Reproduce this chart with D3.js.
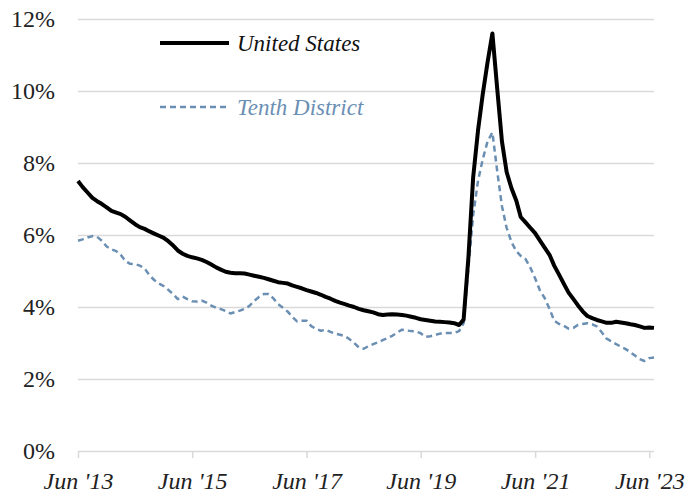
<!DOCTYPE html>
<html>
<head>
<meta charset="utf-8">
<script src="https://cdn.jsdelivr.net/npm/d3@7"></script>
<style>
  html, body { margin: 0; padding: 0; background: #fff; }
  svg { display: block; }
</style>
</head>
<body>
<svg id="chart" width="688" height="502"></svg>
<script>
// Monthly, Jun 2013 through Jul 2023 (percent)
const unitedStates = [
  7.50, 7.33, 7.18, 7.03, 6.94, 6.86, 6.77, 6.67, 6.62, 6.58,
  6.50, 6.40, 6.30, 6.22, 6.17, 6.10, 6.04, 5.98, 5.92, 5.82,
  5.70, 5.57, 5.48, 5.42, 5.38, 5.35, 5.31, 5.25, 5.18, 5.10,
  5.04, 4.98, 4.95, 4.94, 4.94, 4.93, 4.90, 4.87, 4.84, 4.81,
  4.77, 4.73, 4.69, 4.67, 4.65, 4.60, 4.56, 4.52, 4.47, 4.43,
  4.39, 4.34, 4.28, 4.23, 4.17, 4.12, 4.08, 4.04, 4.00, 3.95,
  3.91, 3.88, 3.85, 3.80, 3.78, 3.79, 3.80, 3.79, 3.78, 3.76,
  3.73, 3.70, 3.66, 3.64, 3.62, 3.60, 3.59, 3.58, 3.57, 3.55,
  3.50, 3.65, 5.40, 7.60, 8.90, 9.90, 10.80, 11.60, 10.10, 8.60,
  7.75, 7.30, 6.95, 6.50, 6.35, 6.20, 6.05, 5.85, 5.65, 5.45,
  5.15, 4.90, 4.65, 4.40, 4.22, 4.05, 3.88, 3.75, 3.69, 3.64,
  3.60, 3.56, 3.56, 3.59, 3.57, 3.55, 3.52, 3.50, 3.46, 3.42,
  3.43, 3.42
];

const tenthDistrict = [
  5.84, 5.88, 5.93, 5.97, 5.95, 5.84, 5.68, 5.60, 5.55, 5.45,
  5.27, 5.20, 5.19, 5.15, 5.07, 4.88, 4.75, 4.65, 4.58, 4.47,
  4.35, 4.22, 4.29, 4.22, 4.16, 4.15, 4.18, 4.12, 4.04, 3.98,
  3.94, 3.89, 3.82, 3.86, 3.90, 3.95, 4.03, 4.17, 4.28, 4.36,
  4.36, 4.24, 4.08, 3.98, 3.87, 3.73, 3.60, 3.62, 3.62, 3.47,
  3.39, 3.34, 3.37, 3.31, 3.26, 3.23, 3.19, 3.11, 3.00, 2.88,
  2.84, 2.91, 2.97, 3.02, 3.08, 3.14, 3.20, 3.29, 3.37, 3.35,
  3.33, 3.32, 3.27, 3.17, 3.19, 3.22, 3.26, 3.28, 3.28, 3.28,
  3.33, 3.55, 5.10, 6.55, 7.50, 8.10, 8.60, 8.85, 7.80, 6.80,
  6.20, 5.80, 5.55, 5.42, 5.33, 5.10, 4.80, 4.47, 4.25, 3.95,
  3.62, 3.53, 3.48, 3.40, 3.42, 3.50, 3.53, 3.55, 3.52, 3.46,
  3.30, 3.12, 3.05, 2.97, 2.90, 2.83, 2.74, 2.65, 2.55, 2.50,
  2.58, 2.60
];

const yTicks = [0, 2, 4, 6, 8, 10, 12];
const xTickYears = [2013, 2015, 2017, 2019, 2021, 2023];

const BLUE = "#6b8fb3";
const GRID = "#d9d9d9";
const SERIF = '"Liberation Serif", "Times New Roman", serif';

const seriesInfo = [
  { name: "United States", values: unitedStates, color: "#000000", width: 4, dash: null },
  { name: "Tenth District", values: tenthDistrict, color: BLUE, width: 2.5, dash: "6,4" },
];

const svg = d3.select("#chart");
const plotLeft = 78, plotRight = 654, plotTop = 19, plotBottom = 451;

const months = unitedStates.map((_, i) => new Date(2013, 5 + i, 1));

const x = d3.scaleTime()
  .domain([months[0], months[months.length - 1]])
  .range([plotLeft, plotRight]);
const y = d3.scaleLinear().domain([0, 12]).range([plotBottom, plotTop]);

// y axis + gridlines
const yAxis = svg.append("g")
  .attr("transform", `translate(${plotLeft},0)`)
  .call(d3.axisLeft(y)
    .tickValues(yTicks)
    .tickSize(-(plotRight - plotLeft))
    .tickPadding(23)
    .tickFormat(d => d + "%"));
yAxis.attr("font-family", null).attr("font-size", null);
yAxis.select(".domain").remove();
yAxis.selectAll(".tick line").attr("stroke", GRID).attr("stroke-width", 1.5);
yAxis.selectAll(".tick text")
  .style("font-family", SERIF)
  .style("font-size", "24px")
  .attr("fill", "#222");

// x axis
const xAxis = svg.append("g")
  .attr("transform", `translate(0,${plotBottom})`)
  .call(d3.axisBottom(x)
    .tickValues(xTickYears.map(yr => new Date(yr, 5, 1)))
    .tickSize(7)
    .tickPadding(14)
    .tickFormat(d => "Jun '" + String(d.getFullYear()).slice(2)));
xAxis.attr("font-family", null).attr("font-size", null);
xAxis.select(".domain").remove();
xAxis.selectAll(".tick line").attr("stroke", GRID).attr("stroke-width", 1.5);
xAxis.selectAll(".tick text")
  .style("font-family", SERIF)
  .style("font-size", "24px")
  .style("font-style", "italic")
  .attr("fill", "#222");

// lines
const line = d3.line()
  .x((d, i) => x(months[i]))
  .y(d => y(d));

// tenth district first so the US line sits on top
seriesInfo.slice().reverse().forEach(s => {
  svg.append("path")
    .datum(s.values)
    .attr("fill", "none")
    .attr("stroke", s.color)
    .attr("stroke-width", s.width)
    .attr("stroke-dasharray", s.dash)
    .attr("stroke-linejoin", "round")
    .attr("d", line);
});

// legend
const legend = svg.append("g");
seriesInfo.forEach((s, i) => {
  const ly = 43 + i * 64;
  legend.append("line")
    .attr("x1", 160).attr("x2", 229)
    .attr("y1", ly).attr("y2", ly)
    .attr("stroke", s.color)
    .attr("stroke-width", s.width)
    .attr("stroke-dasharray", s.dash);
  legend.append("text")
    .attr("x", 237).attr("y", ly + 8)
    .style("font-family", SERIF)
    .style("font-size", "23px")
    .style("font-style", "italic")
    .attr("fill", i === 0 ? "#111" : BLUE)
    .text(s.name);
});
</script>
</body>
</html>
